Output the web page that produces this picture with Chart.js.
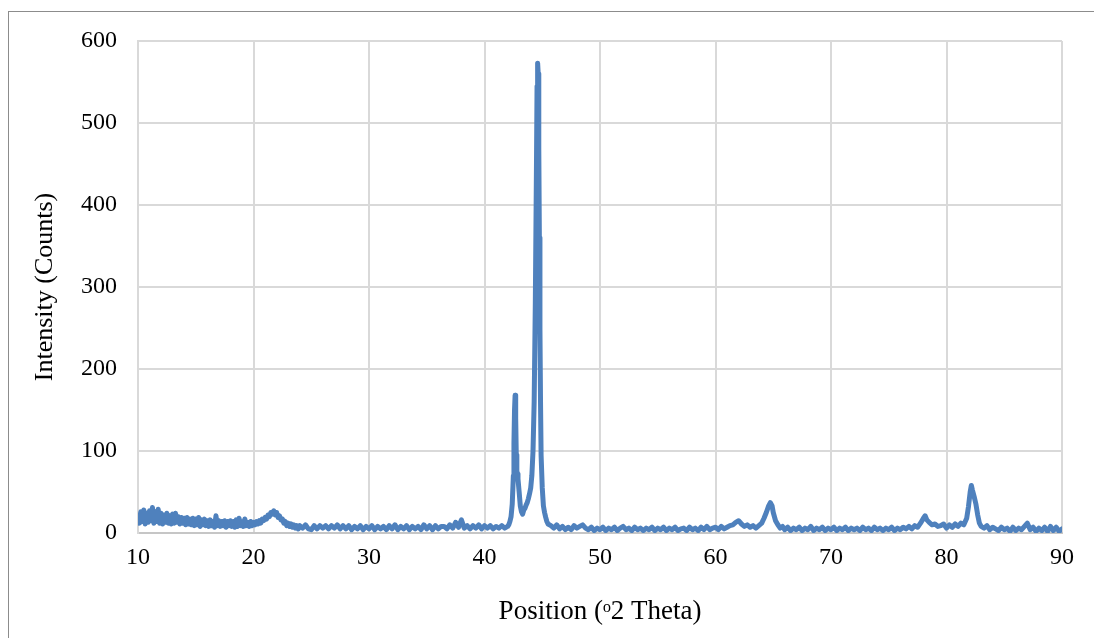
<!DOCTYPE html>
<html>
<head>
<meta charset="utf-8">
<script src="https://cdn.jsdelivr.net/npm/chart.js@4.4.1/dist/chart.umd.min.js"></script>
<style>
  body { margin: 0; background: #fff; overflow: hidden; }
  #wrap { position: relative; width: 1094px; height: 638px; }
  #frame { position: absolute; left: 8px; top: 11px; width: 1200px; height: 700px;
           border: 1px solid #8c8c8c; pointer-events: none; }
  canvas { position: absolute; left: 0; top: 0; }
</style>
</head>
<body>
<div id="wrap">
  <canvas id="xrd" width="1094" height="638"></canvas>
  <div id="frame"></div>
</div>
<script>
// 2 theta positions (degrees)
const theta = [
  10, 10.125, 10.25, 10.375, 10.5, 10.625, 10.75, 10.875, 11, 11.125, 11.25, 11.375, 11.5, 11.625, 11.75, 11.875,
  12, 12.125, 12.25, 12.375, 12.5, 12.625, 12.75, 12.875, 13, 13.125, 13.25, 13.375, 13.5, 13.625, 13.75, 13.875,
  14, 14.125, 14.25, 14.375, 14.5, 14.625, 14.75, 14.875, 15, 15.125, 15.25, 15.375, 15.5, 15.625, 15.75, 15.875,
  16, 16.125, 16.25, 16.375, 16.5, 16.625, 16.75, 16.875, 17, 17.125, 17.25, 17.375, 17.5, 17.625, 17.75, 17.875,
  18, 18.125, 18.25, 18.375, 18.5, 18.625, 18.75, 18.875, 19, 19.125, 19.25, 19.375, 19.5, 19.625, 19.75, 19.875,
  20, 20.125, 20.25, 20.375, 20.5, 20.625, 20.75, 20.875, 21, 21.125, 21.25, 21.375, 21.5, 21.625, 21.75, 21.875,
  22, 22.125, 22.25, 22.375, 22.5, 22.625, 22.75, 22.875, 23, 23.125, 23.25, 23.375, 23.5, 23.625, 23.75, 23.875,
  24, 24.25, 24.5, 24.75, 25, 25.25, 25.5, 25.75,
  26, 26.25, 26.5, 26.75, 27, 27.25, 27.5, 27.75, 28, 28.25, 28.5, 28.75, 29, 29.25, 29.5, 29.75,
  30, 30.25, 30.5, 30.75, 31, 31.25, 31.5, 31.75, 32, 32.25, 32.5, 32.75, 33, 33.25, 33.5, 33.75,
  34, 34.25, 34.5, 34.75, 35, 35.25, 35.5, 35.75, 36, 36.25, 36.5, 36.75, 37, 37.25, 37.5, 37.75,
  38, 38.25, 38.5, 38.75, 39, 39.25, 39.5, 39.75, 40, 40.25, 40.5, 40.75, 41, 41.25, 41.5, 41.75,
  42, 42.1, 42.2, 42.3, 42.4, 42.5, 42.55, 42.6, 42.65, 42.7, 42.75, 42.8, 42.85, 42.9, 43, 43.1,
  43.2, 43.3, 43.4, 43.5, 43.6, 43.7, 43.8, 43.9, 44, 44.1, 44.2, 44.3, 44.4, 44.5, 44.55, 44.6,
  44.65, 44.7, 44.75, 44.8, 44.85, 44.9, 45, 45.1, 45.2, 45.3, 45.4, 45.5, 45.75, 46, 46.25, 46.5,
  46.75, 47, 47.25, 47.5, 47.75, 48, 48.25, 48.5, 48.75, 49, 49.25, 49.5, 49.75, 50, 50.25, 50.5,
  50.75, 51, 51.25, 51.5, 51.75, 52, 52.25, 52.5, 52.75, 53, 53.25, 53.5, 53.75, 54, 54.25, 54.5,
  54.75, 55, 55.25, 55.5, 55.75, 56, 56.25, 56.5, 56.75, 57, 57.25, 57.5, 57.75, 58, 58.25, 58.5,
  58.75, 59, 59.25, 59.5, 59.75, 60, 60.25, 60.5, 60.75, 61, 61.25, 61.5, 61.75, 62, 62.25, 62.5,
  62.75, 63, 63.25, 63.5, 63.75, 64, 64.2, 64.4, 64.6, 64.75, 64.9, 65, 65.2, 65.4, 65.6, 65.8,
  66, 66.25, 66.5, 66.75, 67, 67.25, 67.5, 67.75, 68, 68.25, 68.5, 68.75, 69, 69.25, 69.5, 69.75,
  70, 70.25, 70.5, 70.75, 71, 71.25, 71.5, 71.75, 72, 72.25, 72.5, 72.75, 73, 73.25, 73.5, 73.75,
  74, 74.25, 74.5, 74.75, 75, 75.25, 75.5, 75.75, 76, 76.25, 76.5, 76.75, 77, 77.25, 77.5, 77.75,
  78, 78.15, 78.3, 78.5, 78.75, 79, 79.25, 79.5, 79.75, 80, 80.25, 80.5, 80.75, 81, 81.25, 81.5,
  81.75, 81.9, 82.05, 82.15, 82.25, 82.4, 82.55, 82.7, 82.85, 83, 83.25, 83.5, 83.75, 84, 84.25, 84.5,
  84.75, 85, 85.25, 85.5, 85.75, 86, 86.25, 86.5, 86.75, 87, 87.25, 87.5, 87.75, 88, 88.25, 88.5,
  88.75, 89, 89.25, 89.5, 89.75, 90
];

// intensity (counts)
const counts = [
  22, 12, 26, 14, 28, 11, 24, 13, 27, 15, 31, 12, 26, 14, 29, 12,
  24, 11, 22, 13, 24, 12, 21, 11, 23, 12, 24, 13, 20, 11, 19, 12,
  18, 10, 19, 11, 17, 10, 18, 9, 17, 10, 19, 8, 16, 10, 17, 9,
  15, 8, 16, 9, 14, 7, 21, 9, 15, 8, 14, 9, 15, 7, 14, 9,
  15, 8, 14, 7, 16, 8, 18, 9, 14, 8, 17, 9, 13, 8, 14, 9,
  13, 10, 14, 11, 15, 12, 17, 15, 19, 17, 22, 20, 25, 23, 27, 22,
  25, 19, 21, 16, 17, 12, 14, 9, 12, 8, 11, 7, 10, 6, 9, 5,
  9, 6, 10, 5, 4, 9, 5, 9,
  6, 9, 5, 9, 6, 10, 5, 9, 5, 9, 4, 8, 5, 9, 4, 8,
  5, 9, 4, 8, 5, 8, 4, 9, 5, 10, 4, 8, 5, 9, 4, 8,
  5, 8, 4, 10, 5, 9, 4, 9, 5, 8, 8, 5, 10, 6, 13, 7,
  16, 6, 9, 5, 9, 6, 10, 5, 9, 6, 9, 5, 8, 6, 9, 6,
  8, 10, 14, 20, 35, 70, 110, 150, 168, 140, 95, 76, 72, 66, 50, 33,
  26, 23, 28, 30, 34, 37, 42, 48, 55, 70, 100, 160, 280, 450, 545, 573,
  560, 470, 360, 250, 160, 95, 55, 33, 25, 19, 14, 11, 9, 6, 10, 5,
  8, 4, 7, 4, 9, 6, 8, 10, 6, 4, 7, 3, 6, 4, 7, 3,
  6, 4, 7, 3, 6, 8, 4, 6, 3, 7, 4, 6, 3, 6, 4, 7,
  3, 6, 4, 7, 3, 6, 4, 7, 3, 5, 6, 3, 7, 4, 6, 3,
  7, 4, 8, 4, 6, 7, 4, 8, 5, 7, 9, 10, 13, 15, 11, 8,
  10, 7, 9, 6, 9, 12, 18, 25, 33, 37, 33, 25, 15, 10, 6, 8,
  4, 7, 3, 6, 4, 7, 3, 6, 4, 8, 3, 6, 4, 7, 3, 6,
  4, 7, 3, 6, 4, 7, 3, 6, 4, 6, 3, 7, 4, 6, 3, 7,
  4, 6, 3, 6, 4, 7, 3, 6, 4, 7, 5, 8, 5, 9, 7, 12,
  18, 21, 16, 13, 10, 11, 8, 9, 11, 6, 10, 7, 11, 8, 12, 10,
  18, 32, 50, 58, 52, 44, 35, 22, 12, 8, 6, 9, 4, 7, 5, 3,
  7, 4, 6, 2, 7, 3, 6, 4, 8, 12, 4, 7, 2, 6, 3, 7,
  2, 8, 3, 7, 2, 5
];

const xTicks = [10, 20, 30, 40, 50, 60, 70, 80, 90];
const yTicks = [0, 100, 200, 300, 400, 500, 600];

const serif = "'Liberation Serif', 'Times New Roman', serif";

new Chart(document.getElementById("xrd"), {
  type: "line",
  data: {
    datasets: [{
      label: "Intensity",
      data: theta.map((t, i) => ({ x: t, y: counts[i] })),
      borderColor: "#4f81bd",
      borderWidth: 5,
      pointRadius: 0,
      tension: 0,
      borderJoinStyle: "round",
      borderCapStyle: "round"
    }]
  },
  options: {
    responsive: false,
    animation: false,
    devicePixelRatio: 1,
    layout: { padding: { left: 0, top: 41, right: 32, bottom: 0 } },
    plugins: { legend: { display: false }, tooltip: { enabled: false } },
    scales: {
      x: {
        type: "linear",
        min: xTicks[0],
        max: xTicks[xTicks.length - 1],
        afterBuildTicks: s => { s.ticks = xTicks.map(v => ({ value: v })); },
        afterFit: s => { s.height = 105; },
        grid: { color: "#d9d9d9", lineWidth: 2, drawTicks: false },
        border: { color: "#c6c6c6", width: 2 },
        ticks: { color: "#000", padding: 10, font: { family: serif, size: 24 } },
        title: {
          display: true, text: "Position (ᵒ2 Theta)", color: "#000",
          padding: 10, font: { family: serif, size: 27 }
        }
      },
      y: {
        min: yTicks[0],
        max: yTicks[yTicks.length - 1],
        afterBuildTicks: s => { s.ticks = yTicks.map(v => ({ value: v })); },
        afterFit: s => { s.width = 138; },
        grid: { color: "#d9d9d9", lineWidth: 2, drawTicks: false },
        border: { color: "#d9d9d9", width: 2 },
        ticks: { color: "#000", padding: 21, font: { family: serif, size: 24 } },
        title: {
          display: true, text: "Intensity (Counts)", color: "#000",
          padding: 30, font: { family: serif, size: 26 }
        }
      }
    }
  }
});
</script>
</body>
</html>
